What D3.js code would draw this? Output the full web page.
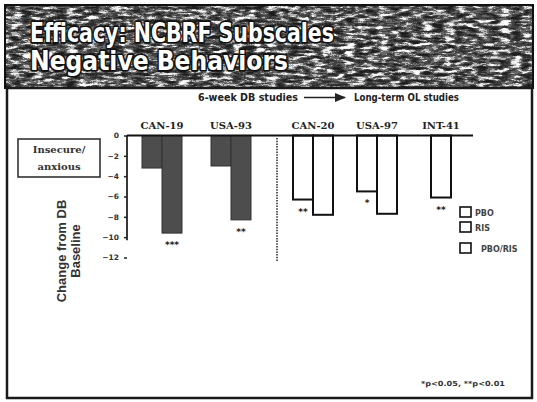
<!DOCTYPE html>
<html>
<head>
<meta charset="utf-8">
<script src="https://cdn.jsdelivr.net/npm/d3@7"></script>
<style>
  html, body { margin: 0; padding: 0; background: #fff; }
  svg { display: block; }
</style>
</head>
<body>
<svg id="chart" width="537" height="402"></svg>
<script>
// Study labels, grouped by phase
const dbStudies = ["CAN-19", "USA-93"];
const olStudies = ["CAN-20", "USA-97", "INT-41"];
const studies = dbStudies.concat(olStudies);

// Change from DB baseline (first and second bar of each study; null = no bar)
const firstValues  = [-3.2, -3.0, -6.3, -5.5, null];
const secondValues = [-9.6, -8.3, -7.8, -7.7, -6.1];

// Significance markers and the bar they sit under
const sigMarks = ["***", "**", "**", "*", "**"];
const sigOn    = ["second", "second", "first", "first", "second"];

const yTicks = [0, -2, -4, -6, -8, -10, -12];
const legendLabels = ["PBO", "RIS", "PBO/RIS"];

const svg = d3.select("#chart");

// ---- textured title banner ----
const defs = svg.append("defs");
const f = defs.append("filter").attr("id", "grain")
  .attr("x", 0).attr("y", 0).attr("width", "100%").attr("height", "100%")
  .attr("color-interpolation-filters", "sRGB");
f.append("feTurbulence").attr("type", "fractalNoise")
  .attr("baseFrequency", "0.09 0.3").attr("numOctaves", 4).attr("seed", 11)
  .attr("result", "noise");
f.append("feColorMatrix").attr("in", "noise").attr("type", "matrix")
  .attr("values", "0.9 0.9 0.9 0 -0.9  0.9 0.9 0.9 0 -0.9  0.9 0.9 0.9 0 -0.9  0 0 0 0 1")
  .attr("result", "gray");
const ct = f.append("feComponentTransfer").attr("in", "gray");
["feFuncR", "feFuncG", "feFuncB"].forEach(fn =>
  ct.append(fn).attr("type", "discrete").attr("tableValues", "0.12 0.18 0.26 0.4 0.7 0.93 1"));

svg.append("rect").attr("x", 5).attr("y", 5).attr("width", 528).attr("height", 83)
  .attr("fill", "#555").attr("filter", "url(#grain)");
svg.append("rect").attr("x", 5).attr("y", 5).attr("width", 528).attr("height", 83)
  .attr("fill", "none").attr("stroke", "#111").attr("stroke-width", 2);

const title = svg.append("g")
  .attr("font-family", "DejaVu Sans, Verdana, sans-serif")
  .attr("font-weight", "bold")
  .attr("font-size", 26)
  .attr("fill", "#fff")
  .attr("stroke", "#111")
  .attr("stroke-width", 3.5)
  .attr("paint-order", "stroke")
  .attr("stroke-linejoin", "round");
title.append("text").attr("x", 30).attr("y", 42)
  .attr("textLength", 304).attr("lengthAdjust", "spacingAndGlyphs")
  .text("Efficacy: NCBRF Subscales");
title.append("text").attr("x", 30).attr("y", 70)
  .attr("textLength", 258).attr("lengthAdjust", "spacingAndGlyphs")
  .text("Negative Behaviors");

// ---- content panel ----
svg.append("rect").attr("x", 7).attr("y", 88).attr("width", 525).attr("height", 310)
  .attr("fill", "#fff").attr("stroke", "#1a1a1a").attr("stroke-width", 2.5);

// phase header with arrow
defs.append("marker").attr("id", "arrowhead")
  .attr("viewBox", "0 0 10 10").attr("refX", 9).attr("refY", 5)
  .attr("markerWidth", 7).attr("markerHeight", 7).attr("orient", "auto")
  .append("path").attr("d", "M0,1 L10,5 L0,9 Z").attr("fill", "#222");

const hdr = svg.append("g")
  .attr("font-family", "DejaVu Sans, Verdana, sans-serif")
  .attr("font-weight", "bold").attr("font-size", 10).attr("fill", "#222");
hdr.append("text").attr("x", 198).attr("y", 101)
  .attr("textLength", 100).attr("lengthAdjust", "spacingAndGlyphs").text("6-week DB studies");
hdr.append("line").attr("x1", 304).attr("x2", 345).attr("y1", 97.5).attr("y2", 97.5)
  .attr("stroke", "#222").attr("stroke-width", 1.6).attr("marker-end", "url(#arrowhead)");
hdr.append("text").attr("x", 354).attr("y", 101)
  .attr("textLength", 105).attr("lengthAdjust", "spacingAndGlyphs").text("Long-term OL studies");

// ---- subscale box ----
svg.append("rect").attr("x", 18).attr("y", 139).attr("width", 82).attr("height", 38)
  .attr("fill", "#fff").attr("stroke", "#333").attr("stroke-width", 1.6);
const boxText = svg.append("g")
  .attr("font-family", "DejaVu Serif, serif").attr("font-weight", "bold")
  .attr("font-size", 10).attr("fill", "#333").attr("text-anchor", "middle");
boxText.append("text").attr("x", 59).attr("y", 153).text("Insecure/");
boxText.append("text").attr("x", 59).attr("y", 170).text("anxious");

// ---- y axis title ----
const yTitle = svg.append("g")
  .attr("font-family", "Liberation Sans, Arial, sans-serif").attr("font-weight", "bold")
  .attr("font-size", 13).attr("fill", "#333").attr("text-anchor", "middle");
yTitle.append("text").attr("transform", "translate(66,251) rotate(-90)").text("Change from DB");
yTitle.append("text").attr("transform", "translate(80,251) rotate(-90)").text("Baseline");

// ---- scales ----
const y = d3.scaleLinear().domain([0, -12]).range([135.5, 257.5]);
const xDB = d3.scalePoint().domain(dbStudies).range([162, 231]);
const xOL = d3.scalePoint().domain(olStudies).range([313, 441]);
const xCenter = s => dbStudies.includes(s) ? xDB(s) : xOL(s);
const sub = d3.scaleBand().domain(["first", "second"]).range([-20, 20]);

// ---- y axis ----
const yAxis = d3.axisLeft(y).tickValues(yTicks).tickFormat(d3.format("d"))
  .tickSize(3).tickPadding(5).tickSizeOuter(0);
const ya = svg.append("g").attr("transform", "translate(127,0)").call(yAxis);
ya.select(".domain").remove();
ya.selectAll(".tick line").attr("stroke", "#222").attr("stroke-width", 1.5);
ya.selectAll(".tick text").attr("font-family", "DejaVu Sans, sans-serif")
  .attr("font-weight", "bold").attr("font-size", 7.5).attr("fill", "#333");
svg.append("line").attr("x1", 127).attr("x2", 127)
  .attr("y1", y(0)).attr("y2", y(-10.3))
  .attr("stroke", "#222").attr("stroke-width", 1.8);

// ---- bars ----
const bars = [];
studies.forEach((s, i) => {
  const phase = dbStudies.includes(s) ? "DB" : "OL";
  const single = firstValues[i] == null;
  if (!single) bars.push({ s, key: "first", v: firstValues[i], phase, x: xCenter(s) + sub("first") });
  if (secondValues[i] != null) bars.push({
    s, key: "second", v: secondValues[i], phase,
    x: single ? xCenter(s) - sub.bandwidth() / 2 : xCenter(s) + sub("second")
  });
});

svg.append("g").selectAll("rect").data(bars).join("rect")
  .attr("x", d => d.x)
  .attr("y", y(0))
  .attr("width", sub.bandwidth())
  .attr("height", d => y(d.v) - y(0))
  .attr("fill", d => d.phase === "DB" ? "#4d4d4d" : "#fff")
  .attr("stroke", d => d.phase === "DB" ? "#333" : "#111")
  .attr("stroke-width", d => d.phase === "DB" ? 1 : 2);

// significance markers
svg.append("g").selectAll("text").data(studies).join("text")
  .attr("x", (s, i) => {
    const bar = bars.find(b => b.s === s && b.key === sigOn[i]);
    return bar.x + sub.bandwidth() / 2;
  })
  .attr("y", (s, i) => {
    const bar = bars.find(b => b.s === s && b.key === sigOn[i]);
    return y(bar.v) + 15;
  })
  .attr("text-anchor", "middle")
  .attr("font-family", "DejaVu Sans, sans-serif").attr("font-weight", "bold")
  .attr("font-size", 9).attr("fill", "#222")
  .text((s, i) => sigMarks[i]);

// baseline across all studies
svg.append("line").attr("x1", 127).attr("x2", 473).attr("y1", y(0)).attr("y2", y(0))
  .attr("stroke", "#111").attr("stroke-width", 2);

// study labels
svg.append("g").selectAll("text").data(studies).join("text")
  .attr("x", s => xCenter(s)).attr("y", 129)
  .attr("text-anchor", "middle")
  .attr("font-family", "DejaVu Serif, serif").attr("font-weight", "bold")
  .attr("font-size", 10).attr("fill", "#222")
  .text(s => s);

// dotted separator between DB and OL phases
svg.append("line").attr("x1", 277).attr("x2", 277).attr("y1", 138).attr("y2", 261)
  .attr("stroke", "#333").attr("stroke-width", 1.6).attr("stroke-dasharray", "1.5 1.2");

// ---- legend ----
const lg = svg.append("g").selectAll("g").data(legendLabels).join("g")
  .attr("transform", (d, i) => `translate(460,${[207, 222, 243][i]})`);
lg.append("rect").attr("width", 11).attr("height", 10)
  .attr("fill", "#fff").attr("stroke", "#111").attr("stroke-width", 1.6);
lg.append("text").attr("x", (d, i) => i === 2 ? 21 : 15).attr("y", 8.5)
  .attr("font-family", "DejaVu Sans, sans-serif").attr("font-weight", "bold")
  .attr("font-size", 8).attr("fill", "#444").text(d => d);

// ---- footnote ----
svg.append("text").attr("x", 421).attr("y", 386)
  .attr("font-family", "DejaVu Sans, sans-serif").attr("font-weight", "bold")
  .attr("font-size", 7).attr("fill", "#333")
  .attr("textLength", 84).attr("lengthAdjust", "spacingAndGlyphs")
  .text("*p<0.05, **p<0.01");
</script>
</body>
</html>
